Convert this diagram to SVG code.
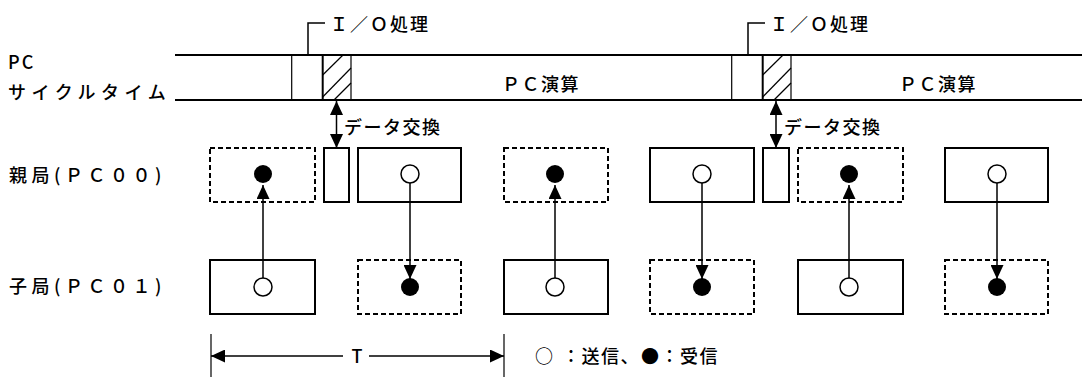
<svg xmlns="http://www.w3.org/2000/svg" width="1084" height="377" viewBox="0 0 1084 377">
<style>
text{font-family:"Noto Sans CJK JP","Noto Sans",sans-serif;font-weight:500;font-size:18px;fill:#000}
.band{stroke:#000;stroke-width:2}
.solid{fill:#fff;stroke:#000;stroke-width:2}
.dash{fill:#fff;stroke:#000;stroke-width:2;stroke-dasharray:5 3}
.open{fill:#fff;stroke:#000;stroke-width:1.5}
.fill{fill:#000}
.conn{stroke:#000;stroke-width:1.5;fill:none}
.thin{stroke:#000;stroke-width:1.2}
.thick{stroke:#000;stroke-width:2}
</style>
<defs>
<marker id="ah" markerUnits="userSpaceOnUse" markerWidth="14" markerHeight="13" refX="14" refY="6.5" orient="auto-start-reverse" viewBox="0 0 14 13">
<path d="M0,0 L14,6.5 L0,13 z" fill="#000"/>
</marker>
</defs>
<rect width="1084" height="377" fill="#fff"/>

<g id="labels">
<text x="8" y="68.5" letter-spacing="2" font-weight="normal">PC</text>
<text x="8" y="99" letter-spacing="5.5" font-weight="normal">サイクルタイム</text>
<text x="9" y="182" letter-spacing="4.5">親局(ＰＣ００)</text>
<text x="9" y="293" letter-spacing="4.5">子局(ＰＣ０１)</text>
</g>

<g id="cycle-band">
<line class="band" x1="175" y1="55" x2="1082" y2="55"/>
<line class="band" x1="175" y1="100" x2="1082" y2="100"/>
<text x="502" y="90.5" letter-spacing="1.5">ＰＣ演算</text>
<text x="899" y="90.5" letter-spacing="1.5">ＰＣ演算</text>
</g>

<g id="io1">
<line class="thin" x1="291.7" y1="55" x2="291.7" y2="100"/>
<line class="thick" x1="322.7" y1="55" x2="322.7" y2="100"/>
<line class="thin" x1="351" y1="55" x2="351" y2="100"/>
<line class="thin" x1="322.7" y1="75" x2="343" y2="55"/>
<line class="thin" x1="322.7" y1="97" x2="351" y2="68"/>
<line class="thin" x1="334" y1="100" x2="351" y2="83"/>
<polyline class="conn" stroke-width="1.2" points="308,55 308,23 325,23"/>
<text x="330" y="31" letter-spacing="2" font-weight="normal">Ｉ／Ｏ処理</text>
</g>

<g id="io2">
<line class="thin" x1="731.7" y1="55" x2="731.7" y2="100"/>
<line class="thick" x1="762.7" y1="55" x2="762.7" y2="100"/>
<line class="thin" x1="791" y1="55" x2="791" y2="100"/>
<line class="thin" x1="762.7" y1="75" x2="783" y2="55"/>
<line class="thin" x1="762.7" y1="97" x2="791" y2="68"/>
<line class="thin" x1="774" y1="100" x2="791" y2="83"/>
<polyline class="conn" stroke-width="1.2" points="748,55 748,23 765,23"/>
<text x="770" y="31" letter-spacing="2" font-weight="normal">Ｉ／Ｏ処理</text>
</g>

<g id="xchg1">
<rect class="solid" x="324" y="148" width="25" height="54"/>
<text x="344" y="133.5" letter-spacing="1.5">データ交換</text>
</g>
<g id="xchg2">
<rect class="solid" x="763" y="148" width="26" height="54"/>
<text x="784" y="133.5" letter-spacing="1.5">データ交換</text>
</g>

<g id="m1"><rect class="dash" x="210" y="148" width="105" height="54"/><circle class="fill" cx="263" cy="174" r="9"/></g>
<g id="m2"><rect class="solid" x="358" y="148" width="103" height="54"/><circle class="open" cx="410" cy="174" r="9"/></g>
<g id="m3"><rect class="dash" x="504" y="148" width="104" height="54"/><circle class="fill" cx="555" cy="174" r="9"/></g>
<g id="m4"><rect class="solid" x="650" y="148" width="104" height="54"/><circle class="open" cx="702" cy="174" r="9"/></g>
<g id="m5"><rect class="dash" x="798" y="148" width="105" height="54"/><circle class="fill" cx="849" cy="174" r="9"/></g>
<g id="m6"><rect class="solid" x="945" y="148" width="103" height="54"/><circle class="open" cx="997" cy="174" r="9"/></g>

<g id="s1"><rect class="solid" x="210" y="260" width="105" height="54"/><circle class="open" cx="263" cy="287" r="9"/></g>
<g id="s2"><rect class="dash" x="358" y="260" width="103" height="54"/><circle class="fill" cx="410" cy="287" r="9"/></g>
<g id="s3"><rect class="solid" x="504" y="260" width="104" height="54"/><circle class="open" cx="555" cy="287" r="9"/></g>
<g id="s4"><rect class="dash" x="650" y="260" width="104" height="54"/><circle class="fill" cx="702" cy="287" r="9"/></g>
<g id="s5"><rect class="solid" x="798" y="260" width="105" height="54"/><circle class="open" cx="849" cy="287" r="9"/></g>
<g id="s6"><rect class="dash" x="945" y="260" width="103" height="54"/><circle class="fill" cx="997" cy="287" r="9"/></g>

<g id="connectors">
<line class="conn" x1="263" y1="278" x2="263" y2="185" marker-end="url(#ah)"/>
<line class="conn" x1="410" y1="183" x2="410" y2="279" marker-end="url(#ah)"/>
<line class="conn" x1="555" y1="278" x2="555" y2="185" marker-end="url(#ah)"/>
<line class="conn" x1="702" y1="183" x2="702" y2="279" marker-end="url(#ah)"/>
<line class="conn" x1="849" y1="278" x2="849" y2="185" marker-end="url(#ah)"/>
<line class="conn" x1="997" y1="183" x2="997" y2="279" marker-end="url(#ah)"/>
<line class="conn" x1="336.5" y1="101" x2="336.5" y2="148" marker-start="url(#ah)" marker-end="url(#ah)"/>
<line class="conn" x1="776" y1="101" x2="776" y2="148" marker-start="url(#ah)" marker-end="url(#ah)"/>
</g>

<g id="period">
<line class="thin" x1="211" y1="334" x2="211" y2="377"/>
<line class="thin" x1="504" y1="334" x2="504" y2="377"/>
<line class="conn" x1="343" y1="356" x2="211" y2="356" marker-end="url(#ah)"/>
<line class="conn" x1="369" y1="356" x2="504" y2="356" marker-end="url(#ah)"/>
<text x="357" y="362.5" text-anchor="middle" font-family="Liberation Sans, sans-serif" font-weight="bold" font-size="17">T</text>
</g>

<g id="legend">
<text y="363" letter-spacing="1.5"><tspan x="535">○</tspan><tspan x="562">：送信、</tspan><tspan x="641">●：受信</tspan></text>
</g>
</svg>
